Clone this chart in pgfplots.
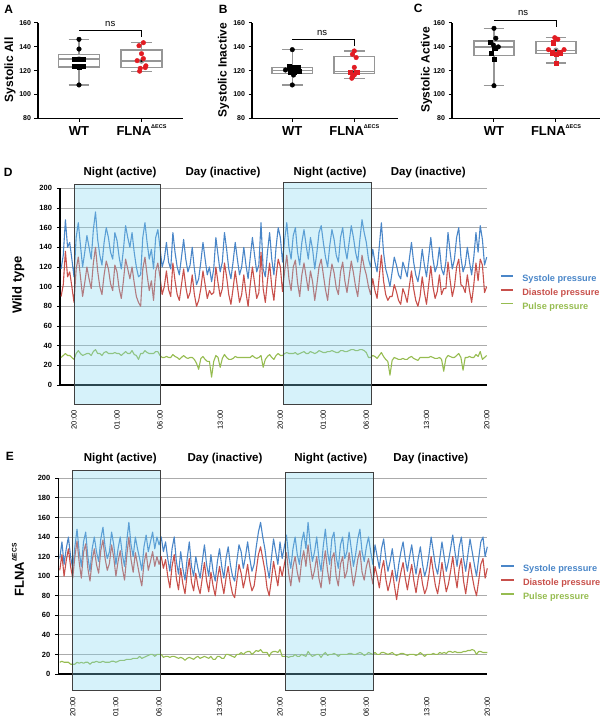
\documentclass[border=0pt]{standalone}
\usepackage{fontspec}
\setmainfont{Liberation Sans}
\usepackage{pgfplots}
\pgfplotsset{compat=1.18}
\usepackage{pgfplotstable}
\usepgfplotslibrary{statistics}
\definecolor{sysb}{RGB}{74,134,200}
\definecolor{diar}{RGB}{200,80,75}
\definecolor{pulg}{RGB}{150,188,80}
\definecolor{nightc}{RGB}{130,215,240}
\definecolor{ptred}{RGB}{226,28,35}
\definecolor{boxg}{RGB}{150,150,150}

\pgfplotstableread{
t S D P
-1.50 118 90 28
-1.25 132 102 30
-1.00 168 136 32
-0.75 140 110 30
-0.50 145 115 30
-0.25 128 100 28
0.00 110 84 26
0.25 150 118 32
0.50 165 130 35
0.75 142 110 32
1.00 120 90 30
1.25 135 104 31
1.50 152 120 32
1.75 140 108 32
2.00 128 98 30
2.25 158 124 34
2.50 176 140 36
2.75 148 116 32
3.00 132 100 32
3.25 122 92 30
3.50 145 112 33
3.75 160 126 34
4.00 150 118 32
4.25 135 103 32
4.50 128 96 32
4.75 155 122 33
5.00 147 115 32
5.25 130 98 32
5.50 118 88 30
5.75 138 106 32
6.00 162 128 34
6.25 150 118 32
6.50 140 108 32
6.75 155 120 35
7.00 135 104 31
7.25 120 90 30
7.50 110 84 26
7.75 112 80 32
8.00 150 118 32
8.25 165 130 35
8.50 145 112 33
8.75 128 96 32
9.00 138 106 32
9.25 118 86 32
9.50 150 116 34
9.75 158 124 34
10.00 140 110 30
10.25 120 92 28
10.50 128 100 28
10.75 145 116 29
11.00 125 97 28
11.25 118 90 28
11.50 155 124 31
11.75 135 106 29
12.00 120 92 28
12.25 112 86 26
12.50 130 102 28
12.75 148 118 30
13.00 128 100 28
13.25 115 88 27
13.50 122 94 28
13.75 140 112 28
14.00 118 92 26
14.25 102 80 22
14.50 108 86 16
14.75 125 98 27
15.00 145 116 29
15.25 128 102 26
15.50 112 88 24
15.75 120 96 24
16.00 105 92 8
16.25 118 94 24
16.50 150 120 30
16.75 132 104 28
17.00 115 90 18
17.25 125 98 27
17.50 155 124 31
17.75 138 110 28
18.00 118 92 26
18.25 108 82 26
18.50 125 98 27
18.75 145 116 29
19.00 128 100 28
19.25 112 84 28
19.50 120 92 28
19.75 140 112 28
20.00 122 94 28
20.25 108 80 28
20.50 130 102 28
20.75 150 120 30
21.00 132 104 28
21.25 115 88 27
21.50 122 94 28
21.75 165 135 30
22.00 118 98 18
22.25 110 84 26
22.50 135 106 29
22.75 155 124 31
23.00 128 100 28
23.25 112 86 26
23.50 140 110 30
23.75 160 128 32
24.00 150 120 30
24.25 125 95 30
24.50 148 116 32
24.75 165 132 33
25.00 140 108 32
25.25 128 96 32
25.50 152 120 32
25.75 160 127 33
26.00 135 104 31
26.25 122 90 32
26.50 145 112 33
26.75 158 124 34
27.00 142 110 32
27.25 128 96 32
27.50 150 116 34
27.75 138 105 33
28.00 118 86 32
28.25 135 102 33
28.50 155 120 35
28.75 162 128 34
29.00 145 112 33
29.25 130 97 33
29.50 120 86 34
29.75 142 108 34
30.00 158 123 35
30.25 148 114 34
30.50 132 99 33
30.75 125 92 33
31.00 150 115 35
31.25 160 125 35
31.50 140 106 34
31.75 128 94 34
32.00 145 110 35
32.25 162 126 36
32.50 150 114 36
32.75 135 100 35
33.00 125 90 35
33.25 148 112 36
33.50 168 132 36
33.75 155 120 35
34.00 145 112 33
34.25 128 100 28
34.50 120 92 28
34.75 138 108 30
35.00 125 96 29
35.25 115 88 27
35.50 140 110 30
35.75 165 132 33
36.00 135 106 29
36.25 118 92 26
36.50 110 86 24
36.75 100 90 10
37.00 115 90 25
37.25 130 102 28
37.50 122 95 27
37.75 112 86 26
38.00 108 82 26
38.25 125 98 27
38.50 118 92 26
38.75 110 84 26
39.00 128 100 28
39.25 145 116 29
39.50 125 98 27
39.75 112 86 26
40.00 105 80 25
40.25 118 90 28
40.50 138 110 28
40.75 122 94 28
41.00 110 82 28
41.25 130 102 28
41.50 150 121 29
41.75 128 100 28
42.00 115 88 27
42.25 122 95 27
42.50 140 112 28
42.75 118 92 26
43.00 112 98 14
43.25 125 98 27
43.50 155 125 30
43.75 135 106 29
44.00 118 90 28
44.25 128 100 28
44.50 150 120 30
44.75 160 128 32
45.00 130 102 28
45.25 115 100 15
45.50 122 94 28
45.75 140 112 28
46.00 125 96 29
46.25 112 84 28
46.50 130 102 28
46.75 155 124 31
47.00 135 106 29
47.25 162 128 34
47.50 148 122 26
47.75 122 94 28
48.00 130 100 30
}\wtdata

\pgfplotstableread{
t S D P
-1.50 118 106 12
-1.25 135 122 13
-1.00 112 100 12
-0.75 128 116 12
-0.50 140 128 12
-0.25 120 110 10
0.00 108 98 10
0.25 130 120 10
0.50 148 136 12
0.75 125 114 11
1.00 110 98 12
1.25 135 124 11
1.50 145 133 12
1.75 120 108 12
2.00 105 95 10
2.25 128 116 12
2.50 140 128 12
2.75 125 112 13
3.00 115 103 12
3.25 138 126 12
3.50 150 137 13
3.75 130 118 12
4.00 118 106 12
4.25 125 113 12
4.50 145 132 13
4.75 132 119 13
5.00 112 100 12
5.25 128 115 13
5.50 140 126 14
5.75 122 108 14
6.00 110 96 14
6.25 135 120 15
6.50 155 140 15
6.75 132 117 15
7.00 120 104 16
7.25 140 124 16
7.50 128 112 16
7.75 118 100 18
8.00 106 90 16
8.25 130 113 17
8.50 142 124 18
8.75 125 106 19
9.00 135 115 20
9.25 145 125 20
9.50 128 110 18
9.75 140 120 20
10.00 132 112 20
10.25 140 120 20
10.50 125 108 17
10.75 135 117 18
11.00 118 100 18
11.25 105 88 17
11.50 128 110 18
11.75 140 122 18
12.00 115 98 17
12.25 102 86 16
12.50 125 108 17
12.75 108 92 16
13.00 96 82 14
13.25 118 102 16
13.50 135 118 17
13.75 110 94 16
14.00 100 85 15
14.25 120 103 17
14.50 108 90 18
14.75 98 82 16
15.00 115 98 17
15.25 132 114 18
15.50 112 95 17
15.75 100 84 16
16.00 122 104 18
16.25 105 90 15
16.50 95 80 15
16.75 115 97 18
17.00 128 110 18
17.25 110 94 16
17.50 98 82 16
17.75 118 98 20
18.00 130 110 20
18.25 112 93 19
18.50 100 82 18
18.75 95 78 17
19.00 115 95 20
19.25 132 112 20
19.50 125 103 22
19.75 108 88 20
20.00 120 98 22
20.25 135 112 23
20.50 118 95 23
20.75 105 85 20
21.00 112 90 22
21.25 130 106 24
21.50 145 122 23
21.75 155 130 25
22.00 140 118 22
22.25 128 106 22
22.50 110 88 22
22.75 98 80 18
23.00 118 96 22
23.25 138 115 23
23.50 125 102 23
23.75 112 90 22
24.00 135 110 25
24.25 118 100 18
24.50 130 112 18
24.75 142 124 18
25.00 120 103 17
25.25 108 90 18
25.50 128 110 18
25.75 140 120 20
26.00 122 104 18
26.25 112 94 18
26.50 135 115 20
26.75 145 126 19
27.00 128 110 18
27.25 155 132 23
27.50 132 112 20
27.75 115 97 18
28.00 125 106 19
28.25 140 120 20
28.50 118 98 20
28.75 105 88 17
29.00 130 110 20
29.25 148 126 22
29.50 125 106 19
29.75 112 92 20
30.00 138 118 20
30.25 145 124 21
30.50 120 100 20
30.75 108 90 18
31.00 132 112 20
31.25 140 120 20
31.50 118 98 20
31.75 125 105 20
32.00 145 124 21
32.25 128 107 21
32.50 110 90 20
32.75 122 102 20
33.00 138 117 21
33.25 148 126 22
33.50 125 104 21
33.75 115 96 19
34.00 130 110 20
34.25 140 118 22
34.50 125 104 21
34.75 112 92 20
35.00 132 110 22
35.25 120 100 20
35.50 108 88 20
35.75 128 106 22
36.00 138 116 22
36.25 118 97 21
36.50 105 85 20
36.75 115 94 21
37.00 128 106 22
37.25 110 90 20
37.50 95 76 19
37.75 112 92 20
38.00 125 104 21
38.25 135 114 21
38.50 118 98 20
38.75 105 86 19
39.00 120 100 20
39.25 132 112 20
39.50 115 95 20
39.75 102 83 19
40.00 118 98 20
40.25 130 108 22
40.50 112 92 20
40.75 100 82 18
41.00 108 88 20
41.25 122 102 20
41.50 140 120 20
41.75 125 104 21
42.00 110 90 20
42.25 102 82 20
42.50 118 96 22
42.75 135 114 21
43.00 120 98 22
43.25 105 84 21
43.50 115 92 23
43.75 128 105 23
44.00 142 120 22
44.25 125 102 23
44.50 110 88 22
44.75 130 108 22
45.00 140 118 22
45.25 118 95 23
45.50 105 82 23
45.75 122 98 24
46.00 138 114 24
46.25 125 100 25
46.50 112 88 24
46.75 100 80 20
47.00 118 95 23
47.25 135 112 23
47.50 140 118 22
47.75 120 98 22
48.00 130 108 22
}\kodata

\pgfplotsset{
  bp/.style={scale only axis, anchor=south west, height=95.8pt,
    ymin=80, ymax=160, ytick={80,100,...,160},
    xtick={0,1}, xticklabels={WT,{FLNA\raisebox{0.55em}{\fontsize{5.5}{6}\selectfont ΔECS}}},
    axis x line=bottom, axis y line=left,
    axis line style={-, line width=1.2pt, black},
    tick align=outside, major tick length=3.5pt, tick style={black, line width=1pt},
    clip=false, /pgf/number format/assume math mode=true,
    yticklabel style={font=\fontsize{7}{8}\selectfont\bfseries},
    xticklabel style={font=\fontsize{13}{14}\selectfont\bfseries, anchor=base, yshift=-14pt},
    boxplot/draw direction=y,
    boxplot/box extend=0.65, boxplot/whisker extend=0.33,
    boxplot/every box/.style={draw=boxg, line width=1.4pt, fill=none},
    boxplot/every whisker/.style={draw=boxg, line width=1.4pt},
    boxplot/every median/.style={draw=boxg, line width=1.4pt},
    bx/.style={draw=boxg, line width=1.4pt, mark=none, solid}},
  ts/.style={scale only axis, anchor=south west, ymin=0, ymax=200, ytick={0,20,...,200},
    axis x line=bottom, axis y line=left,
    x axis line style={-, line width=2.2pt, black},
    y axis line style={-, line width=1.2pt, black},
    ymajorgrids, grid style={line width=0.9pt, color=black!33},
    xtick={0,5,10,17,24,29,34,41,48},
    xticklabels={20:00,01:00,06:00,13:00,20:00,01:00,06:00,13:00,20:00},
    xtick style={draw=none}, ytick style={black, line width=0.8pt},
    tick align=outside, major tick length=3pt,
    /pgf/number format/assume math mode=true,
    yticklabel style={font=\fontsize{7.5}{8}\selectfont\bfseries, xshift=-1.5pt},
    clip=false,
    legend cell align=left,
    legend image code/.code={\draw[#1, line width=1.7pt] (0pt,0.3em) -- (12.7pt,0.3em);},
    legend style={anchor=west, draw=none, fill=none, inner sep=0pt, outer sep=0pt,
      row sep=1.5pt, column sep=6pt, font=\fontsize{9.2}{10}\selectfont\bfseries}}
}

\begin{document}
\begin{tikzpicture}
\useasboundingbox (0pt,0pt) rectangle (602pt,718pt);

% ---------- A ----------
\begin{axis}[bp, at={(38pt,599.5pt)}, width=145pt, xmin=-0.656, xmax=1.664]
\addplot[bx, boxplot prepared={lower whisker=108, lower quartile=123, median=129.7, upper quartile=133.6, upper whisker=146.1, draw position=0}] table[row sep=\\, y index=0] {129.7\\};
\addplot[bx, boxplot prepared={lower whisker=119.1, lower quartile=122.7, median=128, upper quartile=137.2, upper whisker=143.3, draw position=1}] table[row sep=\\, y index=0] {128\\};
\addplot[only marks, mark=*, mark size=2.3pt, black] coordinates {(0,146.1) (0,138) (0,108)};
\addplot[only marks, mark=square*, mark size=2.1pt, black] coordinates {(-0.07,129.7) (0,129.7) (0.07,129.7) (-0.07,123.6) (0,123.2) (0.07,124)};
\addplot[only marks, mark=*, mark size=2.3pt, ptred] coordinates {(1.03,143.3) (0.96,140.8) (1,134.1) (0.93,128.3) (1.03,130) (1.07,124) (0.98,121.9) (1.06,122.5) (0.97,119.5)};
\draw[line width=0.8pt] (axis cs:0,153.9) -- (axis cs:1,153.9) -- (axis cs:1,148);
\node[font=\fontsize{9.5}{10}\selectfont] at (axis cs:0.5,158.7) {ns};
\end{axis}

% ---------- B ----------
\begin{axis}[bp, at={(252pt,599.5pt)}, width=146pt, xmin=-0.65, xmax=1.705]
\addplot[bx, boxplot prepared={lower whisker=108, lower quartile=117.4, median=120, upper quartile=122.7, upper whisker=137.5, draw position=0}] table[row sep=\\, y index=0] {120\\};
\addplot[bx, boxplot prepared={lower whisker=113.6, lower quartile=117.4, median=119, upper quartile=131.6, upper whisker=136.4, draw position=1}] table[row sep=\\, y index=0] {119\\};
\addplot[only marks, mark=*, mark size=2.3pt, black] coordinates {(0,137.5) (-0.11,120.5) (0.06,120.5) (0.02,116.3) (0,108)};
\addplot[only marks, mark=square*, mark size=2.1pt, black] coordinates {(-0.05,123.2) (0.02,122.7) (0.1,122.7) (-0.04,118.6) (0.03,118.6) (0.11,119.2)};
\addplot[only marks, mark=*, mark size=2.3pt, ptred] coordinates {(1,136.4) (0.97,133.6) (1.03,130.9) (1,122.7) (1,116.3) (0.97,115) (0.96,113.6)};
\addplot[only marks, mark=square*, mark size=2.1pt, ptred] coordinates {(0.93,118.6) (1.04,118.6)};
\draw[line width=0.8pt] (axis cs:0,146.4) -- (axis cs:1,146.4) -- (axis cs:1,140.5);
\node[font=\fontsize{9.5}{10}\selectfont] at (axis cs:0.48,151) {ns};
\end{axis}

% ---------- C ----------
\begin{axis}[bp, at={(452pt,599.5pt)}, width=148pt, xmin=-0.677, xmax=1.71]
\addplot[bx, boxplot prepared={lower whisker=107.4, lower quartile=132.4, median=139.7, upper quartile=144.7, upper whisker=155.3, draw position=0}] table[row sep=\\, y index=0] {139.7\\};
\addplot[bx, boxplot prepared={lower whisker=126.4, lower quartile=134.4, median=137, upper quartile=144.1, upper whisker=147.5, draw position=1}] table[row sep=\\, y index=0] {137\\};
\addplot[only marks, mark=*, mark size=2.3pt, black] coordinates {(0,155.3) (0.03,147) (-0.01,141.4) (0.07,139.8) (0,107.4)};
\addplot[only marks, mark=square*, mark size=2.1pt, black] coordinates {(-0.06,144) (0.01,138.6) (-0.04,134.4) (0,129.7)};
\addplot[only marks, mark=*, mark size=2.3pt, ptred] coordinates {(0.98,147.5) (1.03,146.2) (0.88,137.5) (1.13,137.5)};
\addplot[only marks, mark=square*, mark size=2.1pt, ptred] coordinates {(0.96,143.3) (0.94,135) (1.06,135) (1,133.6) (1,126.4)};
\draw[line width=0.8pt] (axis cs:0,162.3) -- (axis cs:1,162.3) -- (axis cs:1,156.4);
\node[font=\fontsize{9.5}{10}\selectfont] at (axis cs:0.47,168.3) {ns};
\end{axis}

% ---------- D ----------
\begin{axis}[ts, at={(60pt,333pt)}, width=426.7pt, height=196.7pt, xmin=-1.63, xmax=48,
  xticklabel style={yshift=-19pt, rotate=90, anchor=east, font=\fontsize{7.5}{8}\selectfont},
  legend style={at={(axis description cs:1.031,0.468)}}]
\addplot[sysb, line width=1.1pt, line join=round] table[x=t, y=S] {\wtdata};
\addlegendentry{\textcolor{sysb}{Systole pressure}}
\addplot[diar, line width=1.1pt, line join=round] table[x=t, y=D] {\wtdata};
\addlegendentry{\textcolor{diar}{Diastole pressure}}
\addplot[pulg, line width=1.1pt, line join=round] table[x=t, y=P] {\wtdata};
\addlegendentry{\textcolor{pulg}{Pulse pressure}}
\fill[nightc, opacity=0.33] (axis cs:0,-19.3) rectangle (axis cs:10,204.4);
\fill[nightc, opacity=0.33] (axis cs:24.4,-19.3) rectangle (axis cs:34.6,205.7);
\draw[black!75, line width=0.7pt] (axis cs:0,-19.3) rectangle (axis cs:10,204.4);
\draw[black!75, line width=0.7pt] (axis cs:24.4,-19.3) rectangle (axis cs:34.6,205.7);
\end{axis}

% ---------- E ----------
\begin{axis}[ts, at={(58.3pt,44pt)}, width=429pt, height=195.7pt, xmin=-1.67, xmax=48,
  xticklabel style={yshift=-17pt, rotate=90, anchor=east, font=\fontsize{7.5}{8}\selectfont},
  legend style={at={(axis description cs:1.031,0.465)}}]
\addplot[sysb, line width=1.1pt, line join=round] table[x=t, y=S] {\kodata};
\addlegendentry{\textcolor{sysb}{Systole pressure}}
\addplot[diar, line width=1.1pt, line join=round] table[x=t, y=D] {\kodata};
\addlegendentry{\textcolor{diar}{Diastole pressure}}
\addplot[pulg, line width=1.1pt, line join=round] table[x=t, y=P] {\kodata};
\addlegendentry{\textcolor{pulg}{Pulse pressure}}
\fill[nightc, opacity=0.33] (axis cs:0,-16.4) rectangle (axis cs:10.1,207.8);
\fill[nightc, opacity=0.33] (axis cs:24.57,-16.4) rectangle (axis cs:34.76,206.4);
\draw[black!75, line width=0.7pt] (axis cs:0,-16.4) rectangle (axis cs:10.1,207.8);
\draw[black!75, line width=0.7pt] (axis cs:24.57,-16.4) rectangle (axis cs:34.76,206.4);
\end{axis}

% ---------- texts ----------
\begin{scope}[every node/.style={font=\fontsize{12}{13}\selectfont\bfseries}]
\node at (8.7pt,708.8pt) {A};
\node at (223.3pt,708.8pt) {B};
\node at (418.3pt,709.7pt) {C};
\node at (8.3pt,545.5pt) {D};
\node at (10pt,261.3pt) {E};
\node[rotate=90] at (10pt,648pt) {Systolic All};
\node[rotate=90] at (223.5pt,648pt) {Systolic Inactive};
\node[rotate=90] at (426.5pt,648pt) {Systolic Active};
\end{scope}
\node[rotate=90, font=\fontsize{13}{14}\selectfont\bfseries] at (18.3pt,433pt) {Wild type};
\node[rotate=90, font=\fontsize{13}{14}\selectfont\bfseries] at (18pt,148pt) {FLNA\raisebox{0.55em}{\fontsize{6.6}{7}\selectfont ΔECS}};
\begin{scope}[every node/.style={font=\fontsize{11.5}{12}\selectfont\bfseries}]
\node at (120pt,545pt) {Night (active)};
\node at (223pt,545pt) {Day (inactive)};
\node at (330pt,545pt) {Night (active)};
\node at (428.3pt,545pt) {Day (inactive)};
\node at (120.3pt,259.7pt) {Night (active)};
\node at (225pt,259.7pt) {Day (inactive)};
\node at (330.7pt,259.7pt) {Night (active)};
\node at (430.8pt,259.7pt) {Day (inactive)};
\end{scope}
\end{tikzpicture}
\end{document}
